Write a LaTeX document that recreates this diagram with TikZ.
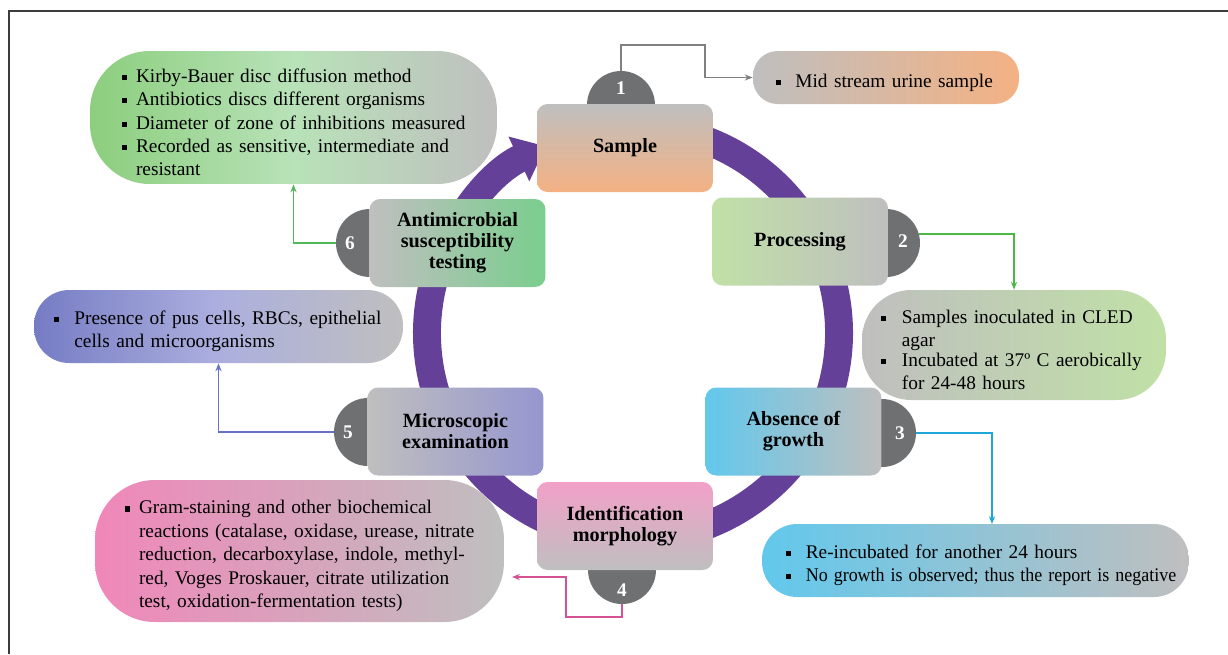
\documentclass[tikz,border=0pt]{standalone}
\usepackage{fontspec}
\setmainfont{Liberation Serif}
\usetikzlibrary{arrows.meta}
\definecolor{ringc}{RGB}{100,64,152}
\definecolor{numgray}{RGB}{110,112,114}
\definecolor{boxgray}{RGB}{191,191,191}
\definecolor{peach}{RGB}{244,177,131}
\definecolor{lgreen}{RGB}{192,225,166}
\definecolor{skyc}{RGB}{98,200,236}
\definecolor{pinkc}{RGB}{242,160,200}
\definecolor{pinkd}{RGB}{240,135,185}
\definecolor{lav}{RGB}{150,150,208}
\definecolor{bluev}{RGB}{118,124,196}
\definecolor{bluel}{RGB}{172,175,222}
\definecolor{mgreen}{RGB}{122,206,142}
\definecolor{kgreen}{RGB}{140,206,126}
\definecolor{kgreenl}{RGB}{184,226,184}
\definecolor{ln1}{RGB}{128,128,128}
\definecolor{ln2}{RGB}{76,184,72}
\definecolor{ln3}{RGB}{30,168,218}
\definecolor{ln4}{RGB}{214,82,150}
\definecolor{ln5}{RGB}{104,112,196}
\definecolor{ln6}{RGB}{80,184,90}
\definecolor{framec}{RGB}{60,60,60}
\newcommand{\sqbul}{\rule[0.12em]{0.27em}{0.27em}}
\newcommand{\bitem}[2][1.05em]{\par\noindent\makebox[#1][l]{\sqbul}\parbox[t]{\dimexpr\hsize-#1\relax}{#2}\par}
\newcommand{\jl}[1]{\makebox[\linewidth][s]{#1}\par}
\newcommand{\lline}[1]{\makebox[\linewidth][l]{#1}\par}
\begin{document}
\begin{tikzpicture}[x=0.02cm,y=-0.02cm,>={Stealth[length=4.5pt,width=3.5pt]},
  stepbox/.style={rounded corners=6pt,minimum width=3.52cm,minimum height=1.76cm,align=center,
    font=\bfseries\fontsize{11.5}{12}\selectfont},
  numc/.style={circle,fill=numgray,minimum size=1.36cm,inner sep=0pt},
  num/.style={text=white,font=\bfseries\fontsize{11}{12}\selectfont,inner sep=0pt},
  infobox/.style={font=\fontsize{11}{13.3}\selectfont,inner sep=0pt},
  link/.style={->,line width=0.85pt}]
\useasboundingbox (0,0) rectangle (1228,654);
\draw[line width=1.2pt,framec] (9,654) |- (1228,11);
\draw[ringc,line width=15.9pt,-{Triangle[length=17pt,width=27pt]}]
  (633,333) ++(-75:206) arc[start angle=-75,end angle=245,radius=206];
\node[numc] (c1) at (621,105) {};
\node[numc] (c2) at (886,243) {};
\node[numc] (c3) at (882,433) {};
\node[numc] (c4) at (622,570) {};
\node[numc] (c5) at (368,432) {};
\node[numc] (c6) at (370,243) {};
\node[stepbox,top color=boxgray,bottom color=peach] (sample) at (625,148) {Sample};
\node[stepbox,left color=lgreen,right color=boxgray] (proc) at (800,241.5) {Processing};
\node[stepbox,left color=skyc,right color=boxgray] (absence) at (793.5,431.5) {Absence of\\growth};
\node[stepbox,top color=pinkc,bottom color=boxgray] (ident) at (625,526) {Identification\\morphology};
\node[stepbox,left color=boxgray,right color=lav] (micro) at (455.5,431.5) {Microscopic\\examination};
\node[stepbox,left color=boxgray,right color=mgreen] (amst) at (457.5,243) {Antimicrobial\\susceptibility\\testing};
\node[num] (n1) at (621,88) {1};
\node[num] (n2) at (903,241) {2};
\node[num] (n3) at (900,433) {3};
\node[num] (n4) at (622,590) {4};
\node[num] (n5) at (348,432) {5};
\node[num] (n6) at (350,243) {6};
\node[infobox,left color=boxgray,right color=peach,rounded corners=14pt,
  minimum width=5.32cm,minimum height=1.06cm,text width=4.4cm] (mid) at (886,77.5)
  {\bitem[1.0em]{\lline{Mid stream urine sample}}};
\node[infobox,left color=boxgray,right color=lgreen,rounded corners=28pt,
  minimum width=6.08cm,minimum height=2.2cm,text width=5.32cm] (inoc) at (1014,345)
  {\bitem[1.08em]{\lline{Samples inoculated in CLED}\lline{agar}}%
   \bitem[1.08em]{\lline{Incubated at 37º C aerobically}\lline{for 24-48 hours}}};
\node[infobox,left color=skyc,right color=boxgray,rounded corners=20pt,
  minimum width=8.54cm,minimum height=1.46cm,text width=7.6cm] (reinc) at (975.5,560.5)
  {\bitem[1.05em]{\lline{Re-incubated for another 24 hours}}%
   \bitem[1.05em]{\lline{\scalebox{0.93}[1]{No growth is observed; thus the report is negative}}}};
\node[infobox,left color=pinkd,right color=boxgray,rounded corners=34pt,
  minimum width=8.18cm,minimum height=2.84cm,text width=7.0cm] (gram) at (299.5,551)
  {\bitem[0.75em]{\jl{Gram-staining and other biochemical}\jl{reactions (catalase, oxidase, urease, nitrate}%
   \jl{reduction, decarboxylase, indole, methyl-}\jl{red, Voges Proskauer, citrate utilization}%
   \lline{test, oxidation-fermentation tests)}}};
\node[infobox,left color=bluev,right color=boxgray,middle color=bluel,rounded corners=20pt,
  minimum width=7.38cm,minimum height=1.46cm,text width=6.6cm] (pres) at (218.5,326.5)
  {\bitem[1.08em]{\lline{Presence of pus cells, RBCs, epithelial}\lline{cells and microorganisms}}};
\node[infobox,left color=kgreen,right color=boxgray,middle color=kgreenl,rounded corners=34pt,
  minimum width=8.14cm,minimum height=2.66cm,text width=6.88cm] (kirby) at (293.5,117.5)
  {\bitem[0.75em]{\lline{Kirby-Bauer disc diffusion method}}%
   \bitem[0.75em]{\lline{Antibiotics discs different organisms}}%
   \bitem[0.75em]{\lline{Diameter of zone of inhibitions measured}}%
   \bitem[0.75em]{\jl{Recorded as sensitive, intermediate and}\lline{resistant}}};
\coordinate (t3) at (992,524);
\coordinate (t4) at (512,577);
\draw[link,ln1] (c1.north) |- (705,45) |- (mid.west);
\draw[link,ln2] (c2.15) -| (inoc.north);
\draw[link,ln3] (c3.east) -| (t3);
\draw[link,ln4] (c4.south) |- (566,617) |- (t4);
\draw[link,ln5] (c5.west) -| (pres.south);
\draw[link,ln6] (c6.west) -| (kirby.south);
\end{tikzpicture}
\end{document}
